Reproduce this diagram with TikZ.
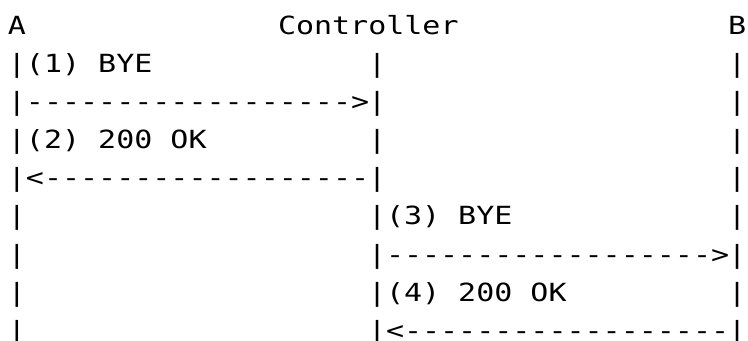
\documentclass[tikz,border=0pt]{standalone}
\usepackage{fontspec}
\newfontfamily\asciifont[FakeStretch=1.2]{DejaVu Sans Mono}
\usepackage{tikz}
\usetikzlibrary{positioning}

\begin{document}
\begin{tikzpicture}[
    x=9pt, y=-19pt,
    cell/.style={anchor=base west, inner sep=0pt, outer sep=0pt, font=\asciifont\fontsize{12.5}{15}\selectfont},
    party/.style={cell},
    lifeline/.style={cell},
    msg/.style={cell}
]
\useasboundingbox (-4pt,17.5pt) rectangle (370pt,-153pt);

% Parties
\node[party] (a) at (0,0) {A};
\node[party] (ctrl) at (15,0) {Controller};
\node[party] (b) at (40,0) {B};

% Lifelines
\foreach \r in {1,...,8} {
    \node[lifeline] (la\r) at (0,\r) {|};
    \node[lifeline] (lc\r) at (20,\r) {|};
    \node[lifeline] (lb\r) at (40,\r) {|};
}

% A <-> Controller
\node[msg] (bye1) at (1,1) {(1) BYE};
\node[msg] (arr1) at (1,2) {------------------>};
\node[msg] (ok2) at (1,3) {(2) 200 OK};
\node[msg] (arr2) at (1,4) {<------------------};

% Controller <-> B
\node[msg] (bye3) at (21,5) {(3) BYE};
\node[msg] (arr3) at (21,6) {------------------>};
\node[msg] (ok4) at (21,7) {(4) 200 OK};
\node[msg] (arr4) at (21,8) {<------------------};

\end{tikzpicture}
\end{document}
